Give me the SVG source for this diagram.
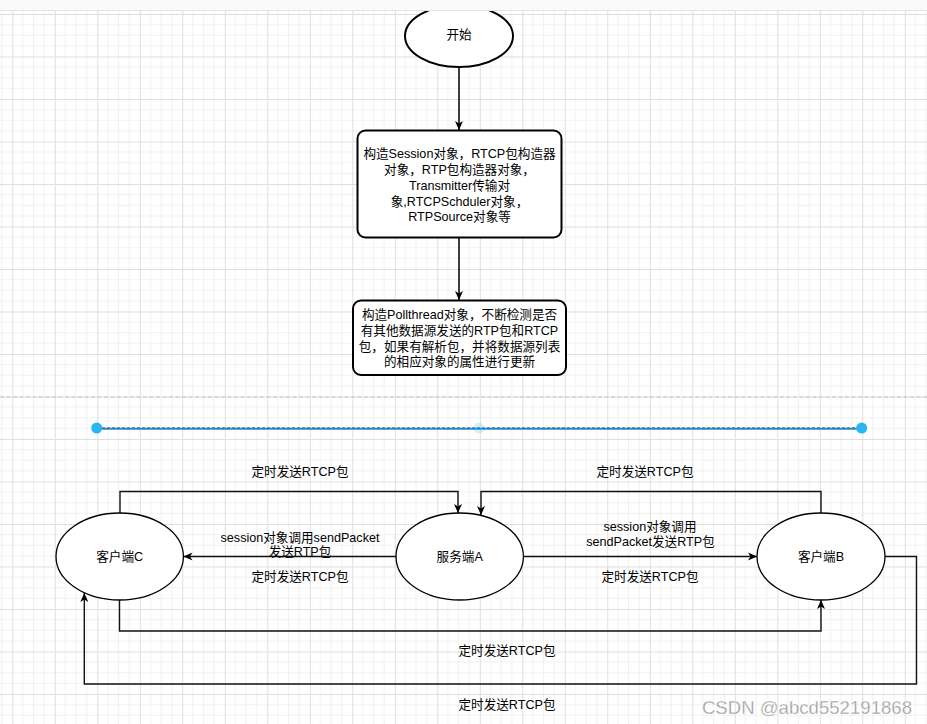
<svg xmlns="http://www.w3.org/2000/svg" width="927" height="724" viewBox="0 0 927 724">
<style>
  .t { font-family: "Liberation Sans", "Noto Sans CJK SC", sans-serif; font-size: 12.6px; fill: #000; text-anchor: middle; dominant-baseline: central; }
  .thick { fill: #fff; stroke: #000; stroke-width: 2; }
  .thin { fill: #fff; stroke: #000; stroke-width: 1.3; }
  .edge { fill: none; stroke: #111; stroke-width: 1.4; }
  .edge2 { fill: none; stroke: #000; stroke-width: 1.5; }
</style>
<defs>
  <pattern id="grid" patternUnits="userSpaceOnUse" x="12.3" y="14" width="42.5" height="42.5">
    <path d="M10.625 0V42.5M21.25 0V42.5M31.875 0V42.5M0 10.625H42.5M0 21.25H42.5M0 31.875H42.5" stroke="#f1f1f1" stroke-width="1"/>
    <path d="M0.5 0V42.5M0 0.5H42.5" stroke="#dedede" stroke-width="1"/>
  </pattern>
  <marker id="arr" markerUnits="userSpaceOnUse" markerWidth="10" markerHeight="10" refX="9" refY="5" orient="auto">
    <path d="M0,1 L9,5 L0,9 L2.5,5 z" fill="#000"/>
  </marker>
</defs>
<rect width="927" height="724" fill="#fff"/>
<rect width="927" height="724" fill="url(#grid)"/>
<line x1="0" y1="397" x2="927" y2="397" stroke="#c4c4c4" stroke-width="1" stroke-dasharray="4,2.5"/>

<g id="connectors">
  <path class="edge2" d="M459 67V130" marker-end="url(#arr)"/>
  <path class="edge2" d="M459 238V300" marker-end="url(#arr)"/>
  <path class="edge" d="M120 513V491.5H458V513" marker-end="url(#arr)"/>
  <path class="edge" d="M821 513V491.5H481V515" marker-end="url(#arr)"/>
  <path class="edge" d="M396 556.5H183.5" marker-end="url(#arr)"/>
  <path class="edge" d="M523.5 556.5H757" marker-end="url(#arr)"/>
  <path class="edge" d="M119.5 600V631H821V600" marker-end="url(#arr)"/>
  <path class="edge" d="M885 556.5H916.5V684H84.3V593" marker-end="url(#arr)"/>
  <g id="selected-line">
    <line x1="97" y1="428.7" x2="862" y2="428.7" stroke="#1c8fd6" stroke-width="2"/>
    <line x1="97" y1="427.9" x2="862" y2="427.9" stroke="#555" stroke-width="1" stroke-dasharray="3,2"/>
    <circle cx="96.7" cy="428" r="5.5" fill="#29b6f2"/>
    <circle cx="861.7" cy="428" r="5.5" fill="#29b6f2"/>
    <circle cx="479" cy="428" r="5.5" fill="#29b6f2" fill-opacity="0.2"/>
  </g>
  <g id="edge-labels">
    <text class="t" x="300" y="471.5">定时发送RTCP包</text>
    <text class="t" x="645" y="471.5">定时发送RTCP包</text>
    <text class="t" x="300" y="537.5">session对象调用sendPacket</text>
    <text class="t" x="300" y="551.5">发送RTP包</text>
    <text class="t" x="300" y="577">定时发送RTCP包</text>
    <text class="t" x="650" y="527">session对象调用</text>
    <text class="t" x="650.5" y="541.5">sendPacket发送RTP包</text>
    <text class="t" x="650" y="577">定时发送RTCP包</text>
    <text class="t" x="507" y="651">定时发送RTCP包</text>
    <text class="t" x="507" y="705">定时发送RTCP包</text>
  </g>
</g>

<g id="node-start">
  <ellipse class="thick" cx="459" cy="36" rx="54" ry="31"/>
  <text class="t" x="459" y="35">开始</text>
</g>
<g id="node-init">
  <rect class="thick" x="357.5" y="130.5" width="204" height="107" rx="8"/>
  <text class="t" x="459.5" y="153.5">构造Session对象，RTCP包构造器</text>
  <text class="t" x="459.5" y="169.5">对象，RTP包构造器对象，</text>
  <text class="t" x="459.5" y="185.5">Transmitter传输对</text>
  <text class="t" x="459.5" y="201.5">象,RTCPSchduler对象，</text>
  <text class="t" x="459.5" y="217">RTPSource对象等</text>
</g>
<g id="node-poll">
  <rect class="thick" x="353" y="300.5" width="213" height="74.5" rx="8"/>
  <text class="t" x="459.5" y="315">构造Pollthread对象，不断检测是否</text>
  <text class="t" x="459.5" y="331">有其他数据源发送的RTP包和RTCP</text>
  <text class="t" x="459.5" y="347">包，如果有解析包，并将数据源列表</text>
  <text class="t" x="459.5" y="362">的相应对象的属性进行更新</text>
</g>
<g id="node-client-c">
  <ellipse class="thin" cx="119.7" cy="556.5" rx="63.7" ry="43.5"/>
  <text class="t" x="119.7" y="556.5">客户端C</text>
</g>
<g id="node-server-a">
  <ellipse class="thin" cx="459.7" cy="556.5" rx="63.7" ry="43.5"/>
  <text class="t" x="459.7" y="556.5">服务端A</text>
</g>
<g id="node-client-b">
  <ellipse class="thin" cx="821" cy="556.5" rx="64" ry="43.5"/>
  <text class="t" x="821" y="556.5">客户端B</text>
</g>

<g id="topbar">
  <rect x="0" y="0" width="927" height="10" fill="#fafafa"/>
  <line x1="0" y1="10.5" x2="927" y2="10.5" stroke="#e4e4e4" stroke-width="1"/>
</g>
<text x="912" y="707" font-family="Liberation Sans, sans-serif" font-size="18.6" fill="#9a9a9a" stroke="#fff" stroke-width="0.3" text-anchor="end" dominant-baseline="central">CSDN @abcd552191868</text>
</svg>
